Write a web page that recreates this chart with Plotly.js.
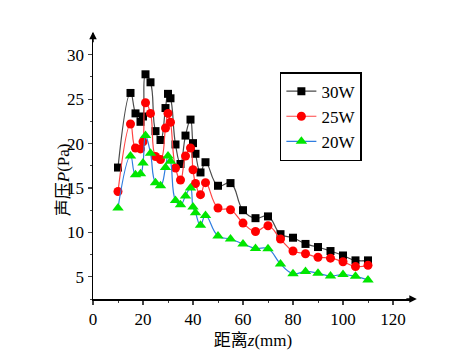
<!DOCTYPE html>
<html>
<head>
<meta charset="utf-8">
<script src="https://cdn.plot.ly/plotly-3.0.1.min.js"></script>
<style>html,body{margin:0;padding:0;background:#fff;}#chart{width:474px;height:354px;}</style>
</head>
<body>
<div id="chart"></div>
<script>
var distance = [10,15,17,19,20,21,23,25,27,29,30,31,33,35,37,39,40,41,43,45,50,55,60,65,70,75,80,85,90,95,100,105,110];
var p30W = [17.3,25.7,23.4,22.45,23.05,27.8,26.9,21.4,20.4,24.0,25.6,25.1,19.9,17.7,20.9,22.7,20.05,18.85,16.75,17.9,15.25,15.55,12.5,11.6,11.8,9.8,9.4,8.7,8.35,7.9,7.4,6.85,6.85];
var p25W = [14.6,22.2,19.5,19.4,20.2,24.6,23.4,18.55,18.2,21.75,23.4,22.4,17.25,15.9,18.6,19.5,17.05,15.5,14.25,15.6,12.75,12.55,11.05,10.1,10.75,9.25,7.9,7.6,7.2,7.1,6.7,6.15,6.3];
var p20W = [12.75,18.6,16.5,16.6,17.8,20.9,18.9,15.6,15.25,17.3,18.6,18.0,13.6,13.1,14.1,15.0,12.85,12.2,10.8,11.9,9.6,9.25,8.7,8.2,8.15,6.45,5.35,5.6,5.4,5.1,5.25,5.05,4.65];
var seriesNames = ['30W','25W','20W'];
var xTickVals = [0,20,40,60,80,100,120];
var yTickVals = [5,10,15,20,25,30];

var serif = '"Liberation Serif", "Times New Roman", serif';
var cjk = '"Liberation Serif", "Noto Sans CJK SC", serif';
function tr(y, name, lineColor, markerColor, symbol, size) {
  return {
    x: distance, y: y, name: name, type: 'scatter', mode: 'lines+markers',
    line: {color: lineColor, width: 1.2, shape: 'spline', smoothing: 1.3},
    marker: {color: markerColor, symbol: symbol, size: size, line: {width: 0}}
  };
}
var data = [
  tr(p30W, seriesNames[0], '#4a4a4a', '#000000', 'square', 8),
  tr(p25W, seriesNames[1], '#ff4444', '#ff0000', 'circle', 9),
  tr(p20W, seriesNames[2], '#2f7de0', '#00e600', 'triangle-up', 10)
];
var layout = {
  width: 474, height: 354,
  margin: {l: 93, r: 61, t: 33, b: 55},
  paper_bgcolor: '#fff', plot_bgcolor: '#fff',
  font: {family: serif, size: 16, color: '#000'},
  showlegend: true,
  legend: {x: 0.584, y: 0.853, xanchor: 'left', yanchor: 'top',
    bordercolor: '#000', borderwidth: 1.5, bgcolor: '#fff', tracegroupgap: 0,
    font: {family: serif, size: 17, color: '#000'}},
  xaxis: {
    range: [0, 128], tickvals: xTickVals, ticks: 'outside', ticklen: 4, tickwidth: 1.2,
    showline: true, linecolor: '#000', linewidth: 1.5, showgrid: false, zeroline: false,
    minor: {dtick: 10, tick0: 0, ticks: 'outside', ticklen: 2, tickwidth: 1, showgrid: false},
    tickfont: {family: serif, size: 17},
    title: {text: '距离<i>z</i>(mm)', font: {family: cjk, size: 17}, standoff: 6}
  },
  yaxis: {
    range: [2.5, 32.45], tickvals: yTickVals, ticks: 'outside', ticklen: 4, tickwidth: 1.2,
    showline: true, linecolor: '#000', linewidth: 1.5, showgrid: false, zeroline: false,
    minor: {dtick: 2.5, tick0: 0, ticks: 'outside', ticklen: 2, tickwidth: 1, showgrid: false},
    tickfont: {family: serif, size: 17}
  },
  annotations: [
    {xref: 'paper', yref: 'paper', x: 1.012, y: 0, ax: -12, ay: 0, text: '', showarrow: true,
     arrowhead: 2, arrowsize: 1, arrowwidth: 1.5, arrowcolor: '#000'},
    {xref: 'paper', yref: 'paper', x: 0, y: 1.005, ax: 0, ay: 12, text: '', showarrow: true,
     arrowhead: 2, arrowsize: 1, arrowwidth: 1.5, arrowcolor: '#000'},
    {xref: 'paper', yref: 'paper', x: -0.094, y: 0.45, xanchor: 'center', yanchor: 'middle',
     textangle: -90, showarrow: false, text: '声压<i>P</i>(Pa)', font: {family: cjk, size: 17, color: '#000'}}
  ]
};
Plotly.newPlot('chart', data, layout, {displayModeBar: false, staticPlot: true});
</script>
</body>
</html>
